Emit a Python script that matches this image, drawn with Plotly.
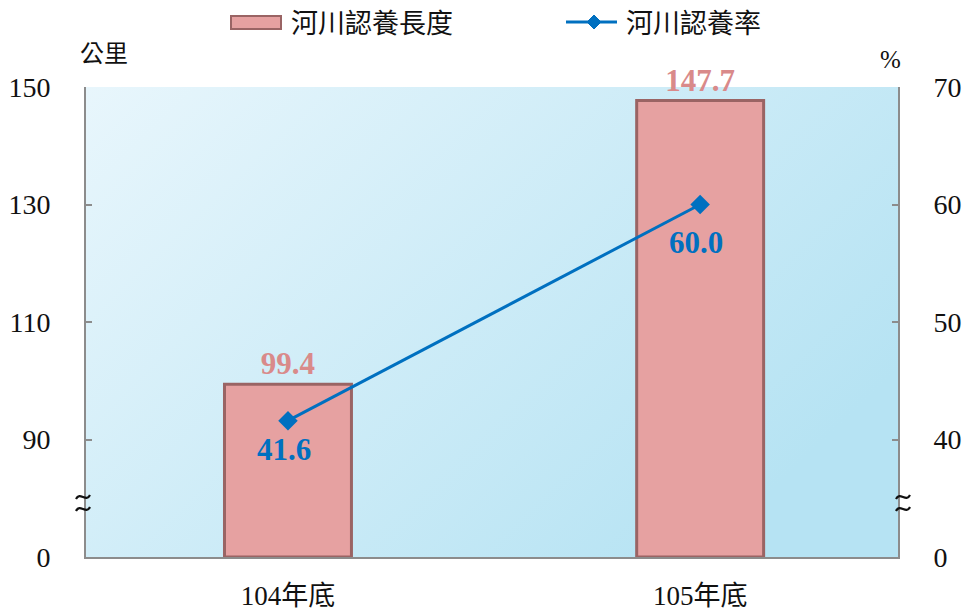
import base64
import plotly.graph_objects as go

categories = ["104年底", "105年底"]
length_km = [99.4, 147.7]
rate_pct = [41.6, 60.0]
left_ticks = [0, 90, 110, 130, 150]
right_ticks = [0, 40, 50, 60, 70]
legend_names = ["河川認養長度", "河川認養率"]

SERIF = "Times New Roman, Liberation Serif, Noto Sans CJK TC, serif"
CJK = "Noto Sans CJK TC, Liberation Serif, sans-serif"


def ly(v):
    # broken left axis: 0 -> 0, 90 -> 1, then 20 per unit
    return v / 90 if v < 90 else 1 + (v - 90) / 20


def ry(v):
    # broken right axis: 0 -> 0, 40 -> 1, then 10 per unit
    return v / 40 if v < 40 else 1 + (v - 40) / 10


W, H = 968, 614
L, R, T, B = 86, 70, 87, 57
PW, PH = W - L - R, H - T - B


def px(x):
    return (x - L) / PW


def py(y):
    return (H - B - y) / PH


fig = go.Figure()

fig.add_trace(go.Bar(
    x=categories, y=[ly(v) for v in length_km],
    width=0.308,
    marker=dict(color="#e6a1a1", line=dict(color="#9a6464", width=3)),
    text=[f"{v:.1f}" for v in length_km], textposition="outside",
    textfont=dict(family=SERIF, size=31, color="#d98a8a", weight="bold"),
    cliponaxis=False, name=legend_names[0], showlegend=False,
))

fig.add_trace(go.Scatter(
    x=categories, y=[ry(v) for v in rate_pct], yaxis="y2",
    mode="lines+markers",
    line=dict(color="#0070c0", width=3),
    marker=dict(symbol="diamond", size=15, color="#0070c0"),
    name=legend_names[1], showlegend=False, cliponaxis=False,
))

# labels for the line points
label_offsets = [29, 38]
for c, v, off in zip(categories, rate_pct, label_offsets):
    fig.add_annotation(x=c, y=ry(v), yref="y2", text=f"<b>{v:.1f}</b>",
                       showarrow=False, yshift=-off, xshift=-4,
                       font=dict(family=SERIF, size=31, color="#0070c0"))

# gradient background
svg = ('<svg xmlns="http://www.w3.org/2000/svg" width="812" height="470" preserveAspectRatio="none">'
       '<defs><linearGradient id="g" x1="0" y1="0" x2="1" y2="0.6">'
       '<stop offset="0" stop-color="#e8f6fc"/><stop offset="1" stop-color="#b6e3f3"/>'
       '</linearGradient></defs><rect width="100%" height="100%" fill="url(#g)"/></svg>')
src = "data:image/svg+xml;base64," + base64.b64encode(svg.encode()).decode()
fig.add_layout_image(dict(source=src, xref="paper", yref="paper", x=0, y=1,
                          sizex=1, sizey=1, sizing="stretch", layer="below",
                          xanchor="left", yanchor="top"))

# custom legend
shapes = []
shapes.append(dict(type="rect", xref="paper", yref="paper",
                   x0=px(231), x1=px(281), y0=py(29), y1=py(16),
                   fillcolor="#e6a1a1", line=dict(color="#9a6464", width=2)))
shapes.append(dict(type="line", xref="paper", yref="paper",
                   x0=px(566), x1=px(617), y0=py(22), y1=py(22),
                   line=dict(color="#0070c0", width=3)))
cx, cy, d = 594, 22, 7
shapes.append(dict(type="path", xref="paper", yref="paper",
                   path=f"M {px(cx-d)} {py(cy)} L {px(cx)} {py(cy-d)} L {px(cx+d)} {py(cy)} L {px(cx)} {py(cy+d)} Z",
                   fillcolor="#0070c0", line=dict(color="#0070c0", width=1)))

# axis break marks (two stacked tildes)
for bx in (83, 903):
    for by in (497, 509):
        path = (f"M {px(bx-7)} {py(by+2)} "
                f"C {px(bx-3)} {py(by-6)}, {px(bx+3)} {py(by+6)}, {px(bx+7)} {py(by-2)}")
        shapes.append(dict(type="path", xref="paper", yref="paper", path=path,
                           line=dict(color="#111", width=2.2)))

fig.add_annotation(xref="paper", yref="paper", x=px(289), y=py(22),
                   xanchor="left", yanchor="middle",
                   text=legend_names[0], showarrow=False,
                   font=dict(family=CJK, size=27, color="#111"))
fig.add_annotation(xref="paper", yref="paper", x=px(624), y=py(22),
                   xanchor="left", yanchor="middle",
                   text=legend_names[1], showarrow=False,
                   font=dict(family=CJK, size=27, color="#111"))

# axis titles
fig.add_annotation(xref="paper", yref="paper", x=px(104), y=py(52),
                   xanchor="center", yanchor="middle",
                   text="公里", showarrow=False,
                   font=dict(family=CJK, size=24, color="#111"))
fig.add_annotation(xref="paper", yref="paper", x=px(890), y=py(60),
                   xanchor="center", yanchor="middle",
                   text="%", showarrow=False,
                   font=dict(family=SERIF, size=25, color="#111"))

fig.update_layout(
    width=W, height=H,
    margin=dict(l=L, r=R, t=T, b=B, autoexpand=False),
    paper_bgcolor="white", plot_bgcolor="rgba(0,0,0,0)",
    shapes=shapes,
    xaxis=dict(type="category", range=[-0.490, 1.480], showline=True,
               linecolor="#8c8c8c", linewidth=2, ticks="",
               tickfont=dict(family=SERIF, size=27, color="#111"),
               ticklabelstandoff=14, showgrid=False, zeroline=False,
               automargin=False),
    yaxis=dict(range=[0, 4], tickvals=[ly(v) for v in left_ticks],
               ticktext=[str(v) for v in left_ticks],
               showline=True, linecolor="#8c8c8c", linewidth=2,
               ticks="inside", ticklen=6, tickcolor="#8c8c8c", tickwidth=2,
               tickfont=dict(family=SERIF, size=28, color="#111"),
               ticklabelstandoff=28, showgrid=False, zeroline=False,
               automargin=False),
    yaxis2=dict(range=[0, 4], overlaying="y", side="right",
                tickvals=[ry(v) for v in right_ticks],
                ticktext=[str(v) for v in right_ticks],
                showline=True, linecolor="#8c8c8c", linewidth=2,
                ticks="inside", ticklen=6, tickcolor="#8c8c8c", tickwidth=2,
                tickfont=dict(family=SERIF, size=28, color="#111"),
                ticklabelstandoff=28, showgrid=False, zeroline=False,
                automargin=False),
)

fig.write_html("out.html", config={"displayModeBar": False},
               post_script="document.body.style.margin='0';")
